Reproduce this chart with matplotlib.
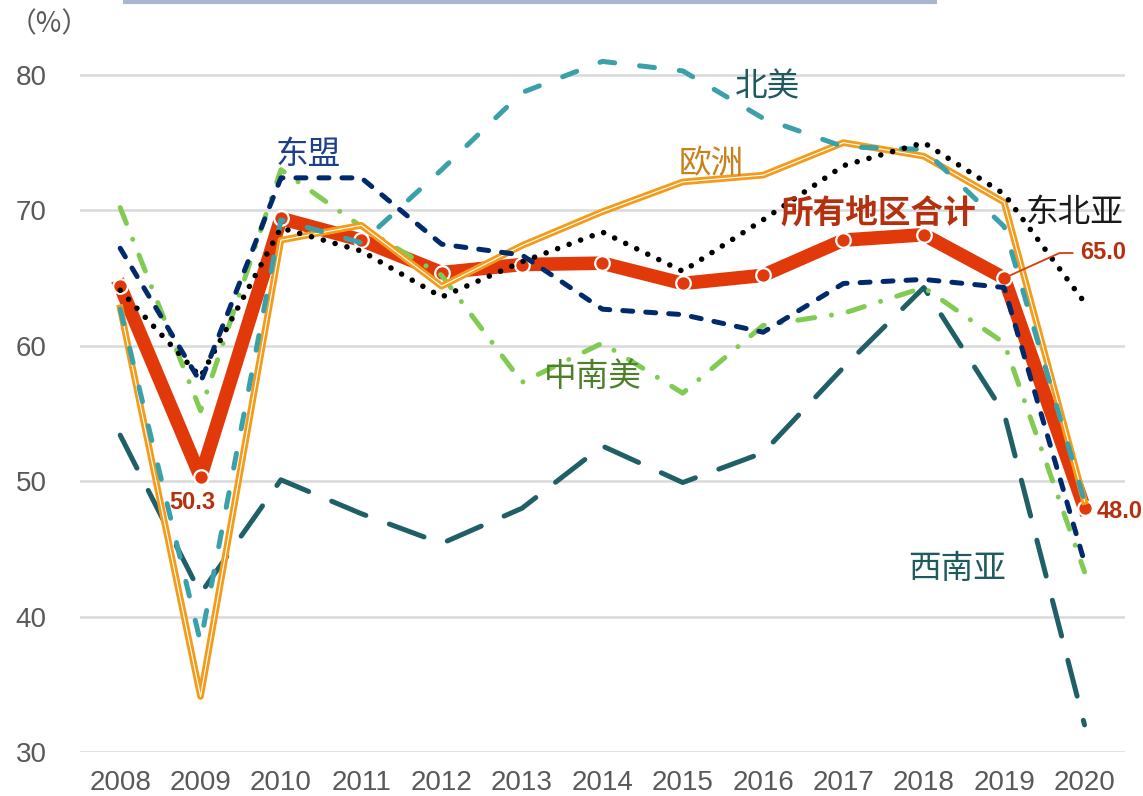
import matplotlib
matplotlib.use("Agg")
import matplotlib.pyplot as plt
from matplotlib.lines import Line2D

plt.rcParams['font.family'] = ['Liberation Sans', 'Noto Sans CJK SC', 'DejaVu Sans']

years = ['2008', '2009', '2010', '2011', '2012', '2013', '2014',
         '2015', '2016', '2017', '2018', '2019', '2020']

# 所有地区合计
total = [64.4, 50.3, 69.4, 67.8, 65.4, 66.0, 66.1, 64.6, 65.2, 67.8, 68.2, 65.0, 48.0]
# 东北亚
ne_asia = [64.1, 57.7, 68.7, 67.0, 63.6, 66.2, 68.4, 65.5, 69.3, 73.3, 75.0, 71.2, 63.2]
# 东盟
asean = [67.2, 57.3, 72.4, 72.4, 67.5, 66.7, 62.7, 62.3, 61.0, 64.6, 64.9, 64.3, 44.0]
# 欧洲
europe = [62.8, 34.1, 67.8, 68.9, 64.4, 67.4, 69.9, 72.1, 72.6, 75.0, 74.0, 70.6, 48.5]
# 北美
n_america = [62.7, 38.1, 69.3, 67.6, 73.0, 78.7, 81.0, 80.3, 76.8, 74.7, 74.5, 68.8, 48.5]
# 中南美
latam = [70.2, 55.2, 73.0, 68.8, 65.2, 57.3, 60.2, 56.5, 61.5, 62.4, 64.3, 60.2, 43.3]
# 西南亚
sw_asia = [53.4, 41.7, 50.1, 47.6, 45.4, 48.0, 52.6, 49.9, 52.1, 58.4, 64.3, 55.0, 32.0]

x = list(range(len(years)))

fig = plt.figure(figsize=(11.43, 7.96), dpi=100)
ax = fig.add_axes([0.070, 0.0553, 0.914, 0.9356])
ax.set_xlim(-0.5, len(years) - 0.5)
ax.set_ylim(30, 85)

for s in ax.spines.values():
    s.set_visible(False)
ax.set_yticks([30, 40, 50, 60, 70, 80])
ax.set_xticks(x)
ax.set_xticklabels(years)
ax.yaxis.grid(True, color='#d9d9d9', linewidth=1.8)
ax.set_axisbelow(True)
ax.tick_params(axis='both', length=0, labelsize=20, labelcolor='#595959')
ax.tick_params(axis='y', pad=24)
ax.tick_params(axis='x', pad=13)

lw = 3.6
# 西南亚
ax.plot(x, sw_asia, color='#1f5f66', lw=lw, dashes=(7.4, 5.0),
        dash_capstyle='round', zorder=3)
# 中南美
ax.plot(x, latam, color='#80cb52', lw=lw, dashes=(3.4, 3.4, 0.01, 3.4),
        dash_capstyle='round', zorder=3)
# 所有地区合计
ax.plot(x, total, color='#e2390a', lw=9.8, solid_joinstyle='round', zorder=2)
ax.plot(x, total, ls='none', marker='o', ms=10.5, mfc='#e2390a',
        mec='white', mew=1.6, zorder=2.5)
# 欧洲 (double line)
ax.plot(x, europe, color='#f39c1c', lw=4.8, zorder=3)
ax.plot(x, europe, color='white', lw=0.8, zorder=3.1)
# 北美
ax.plot(x, n_america, color='#3aa0aa', lw=lw, dashes=(3.0, 5.0),
        dash_capstyle='round', zorder=3.2)
# 东北亚
ax.plot(x, ne_asia, color='black', lw=4.0, dashes=(0.01, 2.2),
        dash_capstyle='round', zorder=3.3)
# 东盟
ax.plot(x, asean, color='#002a6b', lw=lw, dashes=(2.0, 2.6),
        dash_capstyle='round', zorder=3.4)

cjk = ['Noto Sans CJK SC', 'DejaVu Sans']
fs = 23.5
ax.text(2.34, 74.1, '东盟', color='#1e3f8a', fontsize=fs, family=cjk,
        ha='center', va='center')
ax.text(8.06, 79.1, '北美', color='#1f5a5e', fontsize=fs, family=cjk,
        ha='center', va='center')
ax.text(7.36, 73.4, '欧洲', color='#c8811a', fontsize=fs, family=cjk,
        ha='center', va='center')
ax.text(9.43, 69.8, '所有地区合计', color='#b5300e', fontsize=fs, family=cjk,
        fontweight='bold', ha='center', va='center', zorder=5)
ax.text(11.88, 69.8, '东北亚', color='#1a1a1a', fontsize=fs, family=cjk,
        ha='center', va='center', zorder=5)
ax.text(5.88, 57.7, '中南美', color='#4e7f2a', fontsize=fs, family=cjk,
        ha='center', va='center', zorder=5)
ax.text(10.41, 43.5, '西南亚', color='#1f5a5e', fontsize=fs, family=cjk,
        ha='center', va='center', zorder=5)

ax.text(0.9, 48.45, '50.3', color='#b5300e', fontsize=17, fontweight='bold',
        ha='center', va='center', zorder=5)
ax.text(12.15, 47.75, '48.0', color='#b5300e', fontsize=17, fontweight='bold',
        ha='left', va='center', zorder=5)
ax.text(11.94, 66.9, '65.0', color='#b5300e', fontsize=17, fontweight='bold',
        ha='left', va='center', zorder=5)
ax.plot([11, 11.69, 11.85], [65.0, 66.85, 66.85], color='#e2390a', lw=1.3,
        zorder=4, clip_on=False)

fig.text(0.008, 0.970, '（%）', color='#595959', fontsize=20, family=cjk,
         ha='left', va='center')

# top border remnant
fig.add_artist(Line2D([125 / 1143, 935 / 1143], [0.998, 0.998],
                      color='#a9b7ce', lw=3, transform=fig.transFigure))

fig.savefig('out.png', dpi=100)
